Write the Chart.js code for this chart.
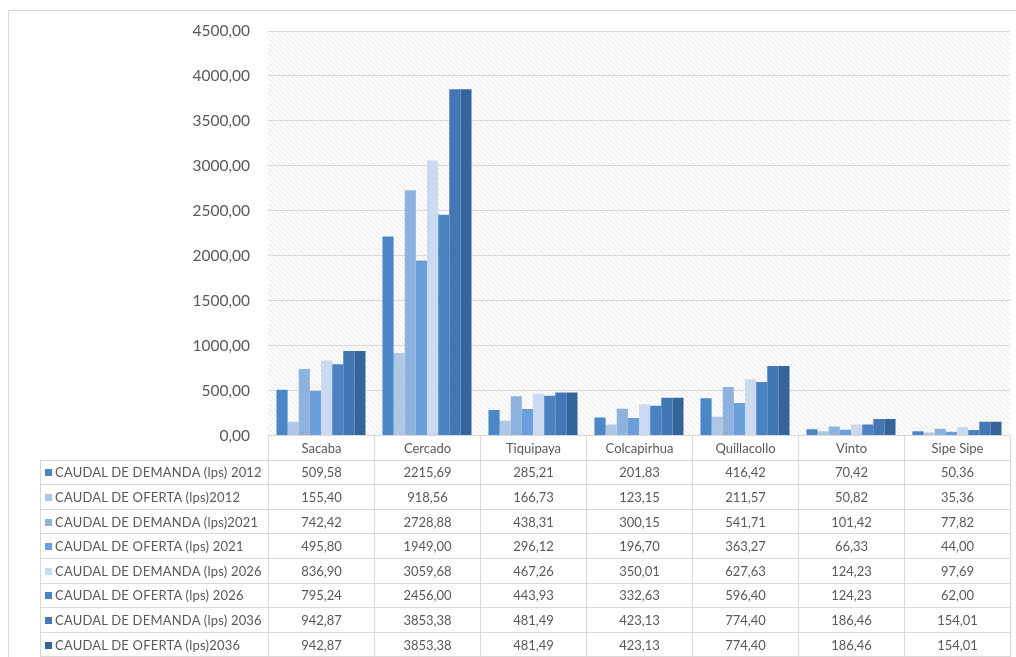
<!DOCTYPE html>
<html>
<head>
<meta charset="utf-8">
<script src="https://cdn.jsdelivr.net/npm/chart.js@4/dist/chart.umd.min.js"></script>
<style>
  body { margin: 0; background: #fff; font-family: Lato, "Open Sans", sans-serif; }
  #frame { position: absolute; left: 8px; top: 10px; width: 1020px; height: 660px; border: 1px solid #d9d9d9; }
  #wrap { position: absolute; left: 0; top: 0; width: 1016px; height: 463px; }
  #tbl { position: absolute; left: 40px; top: 435px; border-collapse: collapse; table-layout: fixed; color: #595959; font-size: 13px; }
  #tbl td { border: 1px solid #d9d9d9; height: 23.6px; padding: 0; text-align: center; white-space: nowrap; background: #fff; }
  #tbl td.lbl { text-align: left; padding-left: 4px; letter-spacing: 0.2px; }
  #tbl tr.head td.blank { border: none; background: transparent; }
  .sw { display: inline-block; width: 7px; height: 7px; margin-right: 3px; vertical-align: 1px; }
</style>
</head>
<body>
<div id="frame"></div>
<div id="wrap"><canvas id="chart"></canvas></div>
<table id="tbl"></table>
<script>
// categories and series
const categories = ['Sacaba', 'Cercado', 'Tiquipaya', 'Colcapirhua', 'Quillacollo', 'Vinto', 'Sipe Sipe'];
const seriesNames = [
  'CAUDAL DE DEMANDA (lps) 2012',
  'CAUDAL DE OFERTA (lps)2012',
  'CAUDAL DE DEMANDA (lps)2021',
  'CAUDAL DE OFERTA (lps) 2021',
  'CAUDAL DE DEMANDA (lps) 2026',
  'CAUDAL DE OFERTA (lps) 2026',
  'CAUDAL DE DEMANDA (lps) 2036',
  'CAUDAL DE OFERTA (lps)2036'
];
const demanda2012 = [509.58, 2215.69, 285.21, 201.83, 416.42, 70.42, 50.36];
const oferta2012 = [155.40, 918.56, 166.73, 123.15, 211.57, 50.82, 35.36];
const demanda2021 = [742.42, 2728.88, 438.31, 300.15, 541.71, 101.42, 77.82];
const oferta2021 = [495.80, 1949.00, 296.12, 196.70, 363.27, 66.33, 44.00];
const demanda2026 = [836.90, 3059.68, 467.26, 350.01, 627.63, 124.23, 97.69];
const oferta2026 = [795.24, 2456.00, 443.93, 332.63, 596.40, 124.23, 62.00];
const demanda2036 = [942.87, 3853.38, 481.49, 423.13, 774.40, 186.46, 154.01];
const oferta2036 = [942.87, 3853.38, 481.49, 423.13, 774.40, 186.46, 154.01];
const yTicks = [0, 500, 1000, 1500, 2000, 2500, 3000, 3500, 4000, 4500];

const allSeries = [demanda2012, oferta2012, demanda2021, oferta2021, demanda2026, oferta2026, demanda2036, oferta2036];
const colors = ['#4a86c8', '#b0c6e6', '#8db2de', '#6b9fdb', '#cbdaf0', '#4a82c3', '#4277b3', '#34649a'];

const fmt = v => v.toFixed(2).replace('.', ',');

// diagonal hatch for plot background
function hatch() {
  const c = document.createElement('canvas');
  c.width = 5; c.height = 5;
  const g = c.getContext('2d');
  g.strokeStyle = '#e4e4e4';
  g.lineWidth = 1;
  g.beginPath();
  g.moveTo(-1, -1); g.lineTo(6, 6);
  g.moveTo(-1, 4); g.lineTo(1, 6);
  g.moveTo(4, -1); g.lineTo(6, 1);
  g.stroke();
  return g.createPattern(c, 'repeat');
}

const bgPlugin = {
  id: 'hatchBg',
  beforeDraw(chart) {
    const a = chart.chartArea, ctx = chart.ctx;
    ctx.save();
    ctx.fillStyle = hatch();
    ctx.fillRect(a.left, a.top, a.right - a.left, a.bottom - a.top);
    ctx.restore();
  }
};

const ctx = document.getElementById('chart').getContext('2d');
const chart = new Chart(ctx, {
  type: 'bar',
  data: {
    labels: categories,
    datasets: allSeries.map((d, i) => ({
      label: seriesNames[i],
      data: d,
      backgroundColor: colors[i],
      borderWidth: 0,
      barPercentage: 1.0,
      categoryPercentage: 0.84
    }))
  },
  options: {
    responsive: true,
    maintainAspectRatio: false,
    animation: false,
    layout: { padding: { top: 31, right: 6, bottom: 11, left: 0 } },
    plugins: { legend: { display: false }, tooltip: { enabled: false } },
    scales: {
      x: { display: false },
      y: {
        min: 0,
        max: 4500,
        afterFit(scale) { scale.width = 268; },
        afterBuildTicks(scale) { scale.ticks = yTicks.map(v => ({ value: v })); },
        border: { display: false },
        grid: { color: '#d9d9d9', drawTicks: false },
        ticks: {
          color: '#595959',
          padding: 18,
          font: { family: 'Lato', size: 15.5 },
          callback: v => fmt(v)
        }
      }
    }
  },
  plugins: [bgPlugin]
});

// data table under the chart
const tbl = document.getElementById('tbl');
let html = '<colgroup><col style="width:228px">' + categories.map(() => '<col style="width:106px">').join('') + '</colgroup>';
html += '<tr class="head"><td class="blank"></td>' + categories.map(c => '<td>' + c + '</td>').join('') + '</tr>';
allSeries.forEach((d, i) => {
  html += '<tr><td class="lbl"><span class="sw" style="background:' + colors[i] + '"></span>' + seriesNames[i] + '</td>' +
    d.map(v => '<td>' + fmt(v) + '</td>').join('') + '</tr>';
});
tbl.innerHTML = html;
</script>
</body>
</html>
